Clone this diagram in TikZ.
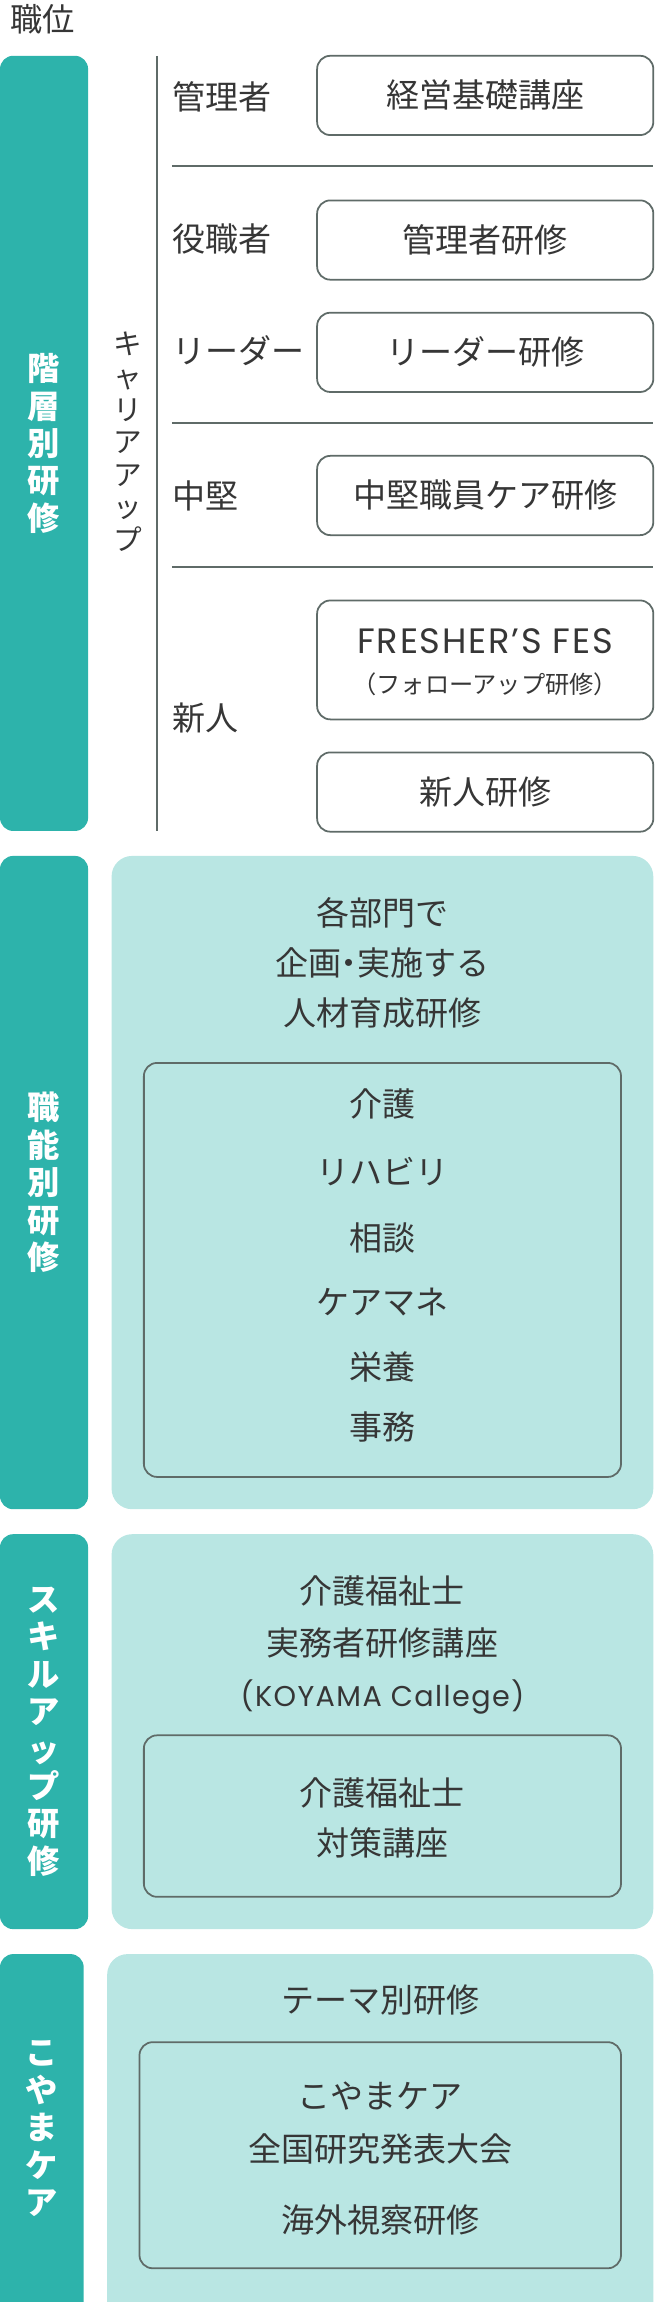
\documentclass[tikz,border=0pt]{standalone}
\usepackage{fontspec}
\setmainfont{Noto Sans CJK JP}
\newfontfamily\latinf[LetterSpace=5]{Poppins}
\definecolor{tealbar}{HTML}{2DB3AB}
\definecolor{tealpale}{HTML}{B9E6E3}
\definecolor{edgegray}{HTML}{5F6B68}
\definecolor{txt}{HTML}{363636}
\tikzset{
  lbl/.style={font=\fontsize{22.5}{26}\selectfont, text=txt, inner sep=0pt},
  wbox/.style={draw=edgegray, line width=1.2pt, rounded corners=9pt, fill=white, minimum width=229pt, minimum height=54pt, inner sep=0pt, font=\fontsize{22.5}{26}\selectfont, text=txt},
  secbar/.style={fill=tealbar, rounded corners=9pt, inner sep=0pt},
  secbox/.style={fill=tealpale, rounded corners=14pt, inner sep=0pt},
  innerbox/.style={draw=edgegray, line width=1.2pt, rounded corners=9pt, inner sep=0pt},
  vtitle/.style={text=white, font=\bfseries\fontsize{22}{25.5}\selectfont, align=center, inner sep=0pt},
  rule/.style={draw=edgegray, line width=1.2pt}
}
\begin{document}
\begin{tikzpicture}[x=1pt,y=-1pt]
\useasboundingbox (0,0) rectangle (448.2,1568);

\node[lbl, font=\fontsize{22}{26}\selectfont, anchor=west] (head) at (7,13) {職位};

% ---------- section 1
\node[secbar, minimum width=60pt, minimum height=528pt] (bar1) at (30,302) {};
\node[vtitle] (t1) at (bar1.center) {階\\層\\別\\研\\修};
\coordinate (vl1) at (107,38);
\coordinate (vl2) at (107,566);
\draw[rule] (vl1) -- (vl2);
\node[lbl, align=center, font=\fontsize{19.5}{22.2}\selectfont] (career) at (87,301) {キ\\ャ\\リ\\ア\\ア\\ッ\\プ};

\node[lbl, anchor=west] (r1) at (117,66) {管理者};
\node[lbl, anchor=west] (r2) at (117,163) {役職者};
\node[lbl, anchor=west] (r3) at (117,239) {リーダー};
\node[lbl, anchor=west] (r4) at (117,338) {中堅};
\node[lbl, anchor=west] (r5) at (117,489) {新人};

\coordinate (d1a) at (117,113); \coordinate (d1b) at (445,113);
\coordinate (d2a) at (117,288); \coordinate (d2b) at (445,288);
\coordinate (d3a) at (117,386); \coordinate (d3b) at (445,386);
\draw[rule] (d1a) -- (d1b);
\draw[rule] (d2a) -- (d2b);
\draw[rule] (d3a) -- (d3b);

\node[wbox] (b1) at (330.5,65) {経営基礎講座};
\node[wbox] (b2) at (330.5,163.5) {管理者研修};
\node[wbox] (b3) at (330.5,240) {リーダー研修};
\node[wbox] (b4) at (330.5,337.5) {中堅職員ケア研修};
\node[wbox, minimum height=81pt] (b5) at (330.5,449.5) {};
\node[lbl, font=\latinf\fontsize{24}{28}\selectfont] (b5a) at (330.5,437) {FRESHER’S FES};
\node[lbl, font=\fontsize{16.5}{19}\selectfont] (b5b) at (330.5,466) {（フォローアップ研修）};
\node[wbox] (b6) at (330.5,539.5) {新人研修};

% ---------- section 2
\node[secbar, minimum width=60pt, minimum height=445pt] (bar2) at (30,805.5) {};
\node[vtitle] (t2) at (bar2.center) {職\\能\\別\\研\\修};
\node[secbox, minimum width=369pt, minimum height=445pt] (box2) at (260.5,805.5) {};
\node[lbl] (s2a) at (260.5,622) {各部門で};
\node[lbl] (s2b) at (260.5,656) {企画\kern-0.27em・\kern-0.27em実施する};
\node[lbl] (s2c) at (260.5,690) {人材育成研修};
\node[innerbox, minimum width=325pt, minimum height=282pt] (in2) at (260.5,865) {};
\node[lbl] (i1) at (260.5,752) {介護};
\node[lbl] (i2) at (260.5,798) {リハビリ};
\node[lbl] (i3) at (260.5,843) {相談};
\node[lbl] (i4) at (260.5,887) {ケアマネ};
\node[lbl] (i5) at (260.5,931) {栄養};
\node[lbl] (i6) at (260.5,972) {事務};

% ---------- section 3
\node[secbar, minimum width=60pt, minimum height=269pt] (bar3) at (30,1179.5) {};
\node[vtitle] (t3) at (bar3.center) {ス\\キ\\ル\\ア\\ッ\\プ\\研\\修};
\node[secbox, minimum width=369pt, minimum height=269pt] (box3) at (260.5,1179.5) {};
\node[lbl] (s3a) at (260.5,1084) {介護福祉士};
\node[lbl] (s3b) at (260.5,1119) {実務者研修講座};
\node[lbl, font=\latinf\fontsize{19.5}{23}\selectfont] (s3c) at (260.5,1156) {(KOYAMA Callege)};
\node[innerbox, minimum width=325pt, minimum height=110pt] (in3) at (260.5,1237) {};
\node[lbl] (s3d) at (260.5,1221) {介護福祉士};
\node[lbl] (s3e) at (260.5,1255) {対策講座};

% ---------- section 4
\node[secbar, minimum width=57pt, minimum height=257pt] (bar4) at (28.5,1459.5) {};
\node[vtitle] (t4) at (28.5,1450) {こ\\や\\ま\\ケ\\ア};
\node[secbox, minimum width=372pt, minimum height=257pt] (box4) at (259,1459.5) {};
\node[lbl] (s4a) at (259,1362) {テーマ別研修};
\node[innerbox, minimum width=328pt, minimum height=154pt] (in4) at (259,1468) {};
\node[lbl] (s4b) at (259,1428) {こやまケア};
\node[lbl] (s4c) at (259,1464) {全国研究発表大会};
\node[lbl] (s4d) at (259,1512) {海外視察研修};
\end{tikzpicture}
\end{document}
